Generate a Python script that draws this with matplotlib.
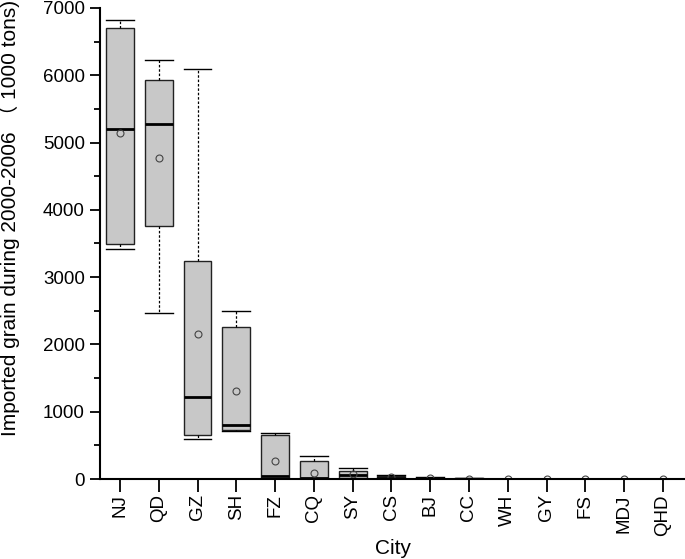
import matplotlib
matplotlib.use("Agg")
import matplotlib.pyplot as plt
from matplotlib.ticker import MultipleLocator

cities = ["NJ", "QD", "GZ", "SH", "FZ", "CQ", "SY", "CS", "BJ", "CC", "WH", "GY", "FS", "MDJ", "QHD"]
whis_lo = [3420, 2460, 590, 715, 0, 0, 5, 3, 2, 1, 1, 0, 0, 0, 0]
q1      = [3490, 3765, 654, 723, 5, 3, 10, 5, 4, 2, 1, 1, 0, 0, 0]
medians = [5200, 5280, 1214, 802, 50, 15, 59, 20, 10, 5, 3, 2, 1, 1, 1]
q3      = [6700, 5925, 3244, 2264, 654, 272, 119, 50, 18, 8, 5, 3, 2, 2, 2]
whis_hi = [6820, 6230, 6095, 2500, 679, 342, 168, 62, 24, 12, 7, 5, 3, 3, 3]
means   = [5140, 4770, 2155, 1312, 272, 94, 68, 25, 10, 5, 3, 2, 1, 1, 1]

plt.rcParams['font.family'] = ['Liberation Sans', 'Noto Sans CJK SC', 'DejaVu Sans']

fig = plt.figure(figsize=(6.85, 5.59), dpi=100)
ax = fig.add_axes([100/685, 80/559, 585/685, 471/559])

stats = []
for i, c in enumerate(cities):
    stats.append(dict(label=c, whislo=whis_lo[i], q1=q1[i], med=medians[i],
                      q3=q3[i], whishi=whis_hi[i], mean=means[i], fliers=[]))

positions = list(range(1, len(cities) + 1))
ax.bxp(stats, positions=positions, widths=0.72, patch_artist=True,
       showmeans=True, showfliers=False,
       boxprops=dict(facecolor="#c8c8c8", edgecolor="#222222", linewidth=1.0),
       medianprops=dict(color="black", linewidth=2.0),
       whiskerprops=dict(color="black", linewidth=0.9, linestyle=(0, (2, 1.5))),
       capprops=dict(color="black", linewidth=1.0),
       capwidths=0.72,
       meanprops=dict(marker="o", markerfacecolor="none", markeredgecolor="#444444",
                      markersize=5, markeredgewidth=0.8))

ax.set_xlim(0.485, 15.57)
ax.set_ylim(0, 7000)
ax.yaxis.set_major_locator(MultipleLocator(1000))
ax.yaxis.set_minor_locator(MultipleLocator(500))
ax.set_xticks(positions)
ax.set_xticklabels(cities, rotation=90, fontsize=13.5)
ax.tick_params(axis='y', which='major', direction='out', length=7, width=1.3, labelsize=13.5, pad=4)
ax.tick_params(axis='y', which='minor', direction='out', length=4, width=1.3)
ax.tick_params(axis='x', which='major', direction='out', length=9, width=1.3, pad=2)
for s in ["top", "right"]:
    ax.spines[s].set_visible(False)
for s in ["left", "bottom"]:
    ax.spines[s].set_linewidth(1.5)

ax.set_xlabel("City", fontsize=15, labelpad=2)
ax.set_ylabel("Imported grain during 2000-2006 \uff08 1000 tons)", fontsize=15)
ax.yaxis.set_label_coords(-0.136, 0.555)

fig.savefig("out.png", dpi=100)
